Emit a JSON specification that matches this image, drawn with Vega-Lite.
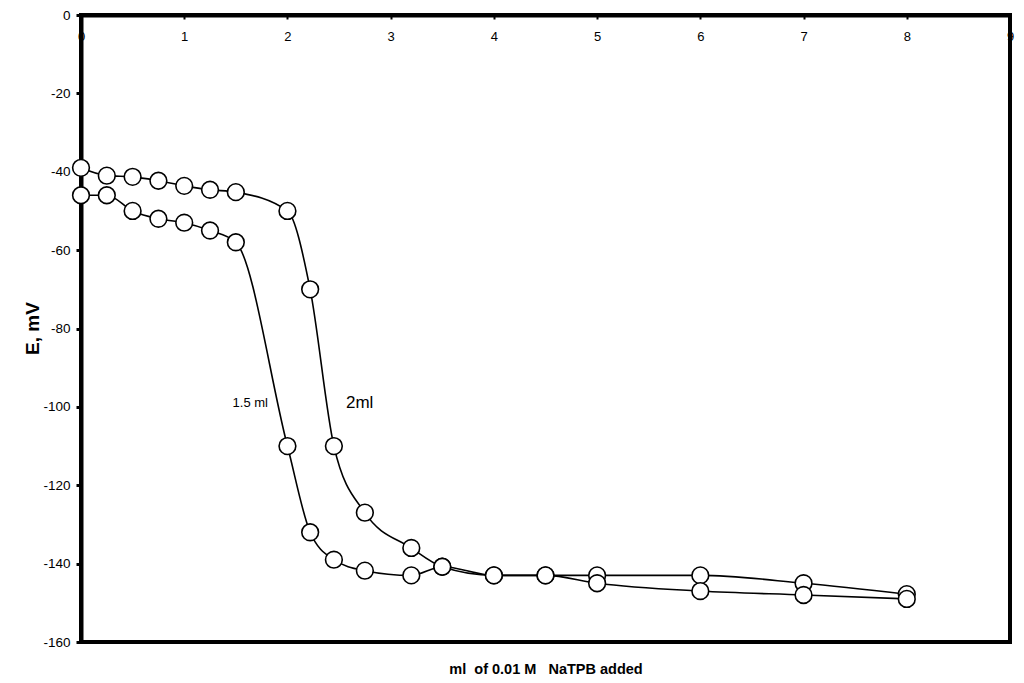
{
  "$schema": "https://vega.github.io/schema/vega-lite/v6.json",
  "width": 929,
  "height": 627,
  "autosize": "none",
  "padding": {"left": 81, "top": 15, "right": 14, "bottom": 41},
  "background": "white",
  "config": {
    "font": "Liberation Sans",
    "view": {"stroke": "black", "strokeWidth": 4}
  },
  "datasets": {
    "curves": [
      {"ml": 0, "E": -39, "series": "2ml"},
      {"ml": 0.25, "E": -41, "series": "2ml"},
      {"ml": 0.5, "E": -41.3, "series": "2ml"},
      {"ml": 0.75, "E": -42.3, "series": "2ml"},
      {"ml": 1.0, "E": -43.6, "series": "2ml"},
      {"ml": 1.25, "E": -44.6, "series": "2ml"},
      {"ml": 1.5, "E": -45.2, "series": "2ml"},
      {"ml": 2.0, "E": -50, "series": "2ml"},
      {"ml": 2.22, "E": -70, "series": "2ml"},
      {"ml": 2.45, "E": -110, "series": "2ml"},
      {"ml": 2.75, "E": -127, "series": "2ml"},
      {"ml": 3.2, "E": -136, "series": "2ml"},
      {"ml": 3.5, "E": -140.8, "series": "2ml"},
      {"ml": 4.0, "E": -143, "series": "2ml"},
      {"ml": 4.5, "E": -143, "series": "2ml"},
      {"ml": 5.0, "E": -143, "series": "2ml"},
      {"ml": 6.0, "E": -143, "series": "2ml"},
      {"ml": 7.0, "E": -145, "series": "2ml"},
      {"ml": 8.0, "E": -147.8, "series": "2ml"},
      {"ml": 0, "E": -46, "series": "1.5 ml"},
      {"ml": 0.25, "E": -46, "series": "1.5 ml"},
      {"ml": 0.5, "E": -50, "series": "1.5 ml"},
      {"ml": 0.75, "E": -52, "series": "1.5 ml"},
      {"ml": 1.0, "E": -53, "series": "1.5 ml"},
      {"ml": 1.25, "E": -55, "series": "1.5 ml"},
      {"ml": 1.5, "E": -58, "series": "1.5 ml"},
      {"ml": 2.0, "E": -110, "series": "1.5 ml"},
      {"ml": 2.22, "E": -132, "series": "1.5 ml"},
      {"ml": 2.45, "E": -139, "series": "1.5 ml"},
      {"ml": 2.75, "E": -141.8, "series": "1.5 ml"},
      {"ml": 3.2, "E": -143, "series": "1.5 ml"},
      {"ml": 3.5, "E": -140.8, "series": "1.5 ml"},
      {"ml": 4.0, "E": -143, "series": "1.5 ml"},
      {"ml": 4.5, "E": -143, "series": "1.5 ml"},
      {"ml": 5.0, "E": -145, "series": "1.5 ml"},
      {"ml": 6.0, "E": -147, "series": "1.5 ml"},
      {"ml": 7.0, "E": -148, "series": "1.5 ml"},
      {"ml": 8.0, "E": -149, "series": "1.5 ml"}
    ],
    "labels": [
      {"ml": 1.64, "E": -99, "text": "1.5 ml", "fs": 13},
      {"ml": 2.7, "E": -99, "text": "2ml", "fs": 17}
    ]
  },
  "encoding": {
    "x": {
      "field": "ml", "type": "quantitative",
      "scale": {"domain": [0, 9], "nice": false, "zero": false},
      "axis": {
        "orient": "top", "values": [0,1,2,3,4,5,6,7,8,9], "grid": false,
        "domainColor": "black", "domainWidth": 4,
        "tickColor": "black", "tickWidth": 2, "tickSize": -4,
        "labelFontSize": 13, "labelColor": "black", "labelBaseline": "middle",
        "labelPadding": -17, "labelFlush": false, "labelOverlap": false,
        "labelExpr": "'' + datum.value",
        "title": "ml\u00a0\u00a0of 0.01 M\u00a0\u00a0\u00a0NaTPB added",
        "titleFontSize": 14.5, "titleFontWeight": "bold", "titleColor": "black",
        "titleY": 654, "titleBaseline": "middle", "titleAnchor": "middle"
      }
    },
    "y": {
      "field": "E", "type": "quantitative",
      "scale": {"domain": [-160, 0], "nice": false, "zero": false},
      "axis": {
        "values": [0,-20,-40,-60,-80,-100,-120,-140,-160], "grid": false,
        "domainColor": "black", "domainWidth": 4,
        "tickColor": "black", "tickWidth": 3, "tickSize": 5,
        "labelFontSize": 13.5, "labelColor": "black", "labelPadding": 6,
        "labelFlush": false, "labelOverlap": false,
        "labelExpr": "'' + datum.value",
        "title": "E, mV", "titleFontSize": 19, "titleFontWeight": "bold", "titleColor": "black",
        "titleX": -49, "titleY": 313, "titleBaseline": "middle", "titleAlign": "center", "titleAngle": -90
      }
    }
  },
  "layer": [
    {
      "data": {"name": "curves"},
      "mark": {"type": "line", "interpolate": "monotone", "color": "black", "strokeWidth": 1.6},
      "encoding": {"detail": {"field": "series"}}
    },
    {
      "data": {"name": "curves"},
      "mark": {"type": "point", "shape": "circle", "filled": true, "fill": "white", "stroke": "black", "strokeWidth": 1.6, "size": 280, "opacity": 1}
    },
    {
      "data": {"name": "labels"},
      "mark": {"type": "text", "color": "black", "align": "center", "baseline": "middle"},
      "encoding": {
        "text": {"field": "text"},
        "size": {"field": "fs", "type": "quantitative", "scale": null}
      }
    }
  ]
}
